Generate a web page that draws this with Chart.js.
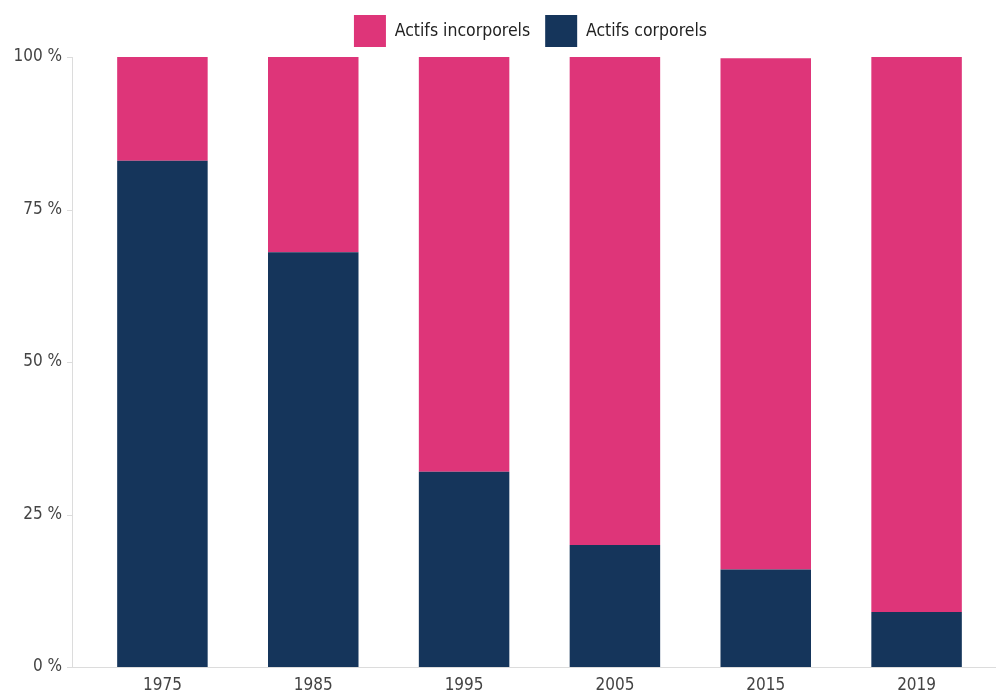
<!DOCTYPE html>
<html lang="fr">
<head>
  <meta charset="UTF-8" />
  <title>Actifs</title>
  <script src="https://cdn.jsdelivr.net/npm/chart.js"></script>
  <style>
    html, body { margin: 0; padding: 0; background: #fff; }
    #wrap { width: 996px; height: 691px; }
  </style>
</head>
<body>
  <div id="wrap"><canvas id="chart"></canvas></div>

  <script>
    const annees = ['1975', '1985', '1995', '2005', '2015', '2019'];
    const corporels = [83, 68, 32, 20, 16, 9];
    const incorporels = [17, 32, 68, 80, 83.8, 91];
    const ticksY = [0, 25, 50, 75, 100];

    const police = "'DejaVu Sans Condensed', 'DejaVu Sans', sans-serif";

    // axe Y et axe X dessinés à la main (ligne décalée à gauche des barres)
    const axes = {
      id: 'axes',
      afterLayout(chart) {
        // légende un peu décalée vers la gauche comme dans l'original
        chart.legend.left -= 9;
        chart.legend.right -= 9;
      },
      afterDraw(chart) {
        const ctx = chart.ctx;
        const area = chart.chartArea;
        const y = chart.scales.y;
        const xAxe = area.left - 15;
        ctx.save();
        ctx.strokeStyle = '#dcdcdc';
        ctx.lineWidth = 1;
        ctx.beginPath();
        ctx.moveTo(xAxe + 0.5, area.top);
        ctx.lineTo(xAxe + 0.5, area.bottom);
        ticksY.forEach(v => {
          const py = Math.round(y.getPixelForValue(v)) + 0.5;
          ctx.moveTo(xAxe - 5, py);
          ctx.lineTo(xAxe, py);
        });
        ctx.moveTo(xAxe, Math.round(area.bottom) + 0.5);
        ctx.lineTo(chart.width, Math.round(area.bottom) + 0.5);
        ctx.stroke();
        ctx.restore();
      }
    };

    new Chart(document.getElementById('chart'), {
      type: 'bar',
      data: {
        labels: annees,
        datasets: [
          { label: 'Actifs corporels', data: corporels, backgroundColor: '#15355b' },
          { label: 'Actifs incorporels', data: incorporels, backgroundColor: '#de3579' }
        ]
      },
      options: {
        responsive: true,
        maintainAspectRatio: false,
        animation: false,
        layout: { padding: { right: 4, top: 0 } },
        datasets: { bar: { categoryPercentage: 1, barPercentage: 0.6 } },
        plugins: {
          tooltip: { enabled: false },
          legend: {
            position: 'top',
            reverse: true,
            fullSize: false,
            labels: {
              boxWidth: 32,
              boxHeight: 32,
              padding: 15,
              color: '#222',
              font: { family: police, size: 17.5 }
            }
          }
        },
        scales: {
          x: {
            stacked: true,
            afterFit(scale) { scale.height = 24; },
            grid: { display: false },
            border: { display: false },
            ticks: { color: '#444', padding: 0, font: { family: police, size: 17 } }
          },
          y: {
            stacked: true,
            min: 0,
            max: 100,
            afterFit(scale) {
              scale.width = 87;
              scale.paddingTop = 0;
              scale.paddingBottom = 0;
            },
            afterBuildTicks(scale) { scale.ticks = ticksY.map(v => ({ value: v })); },
            grid: { display: false },
            border: { display: false },
            ticks: {
              color: '#444',
              padding: 17,
              font: { family: police, size: 17 },
              callback: v => v + ' %'
            }
          }
        }
      },
      plugins: [axes]
    });
  </script>
</body>
</html>
